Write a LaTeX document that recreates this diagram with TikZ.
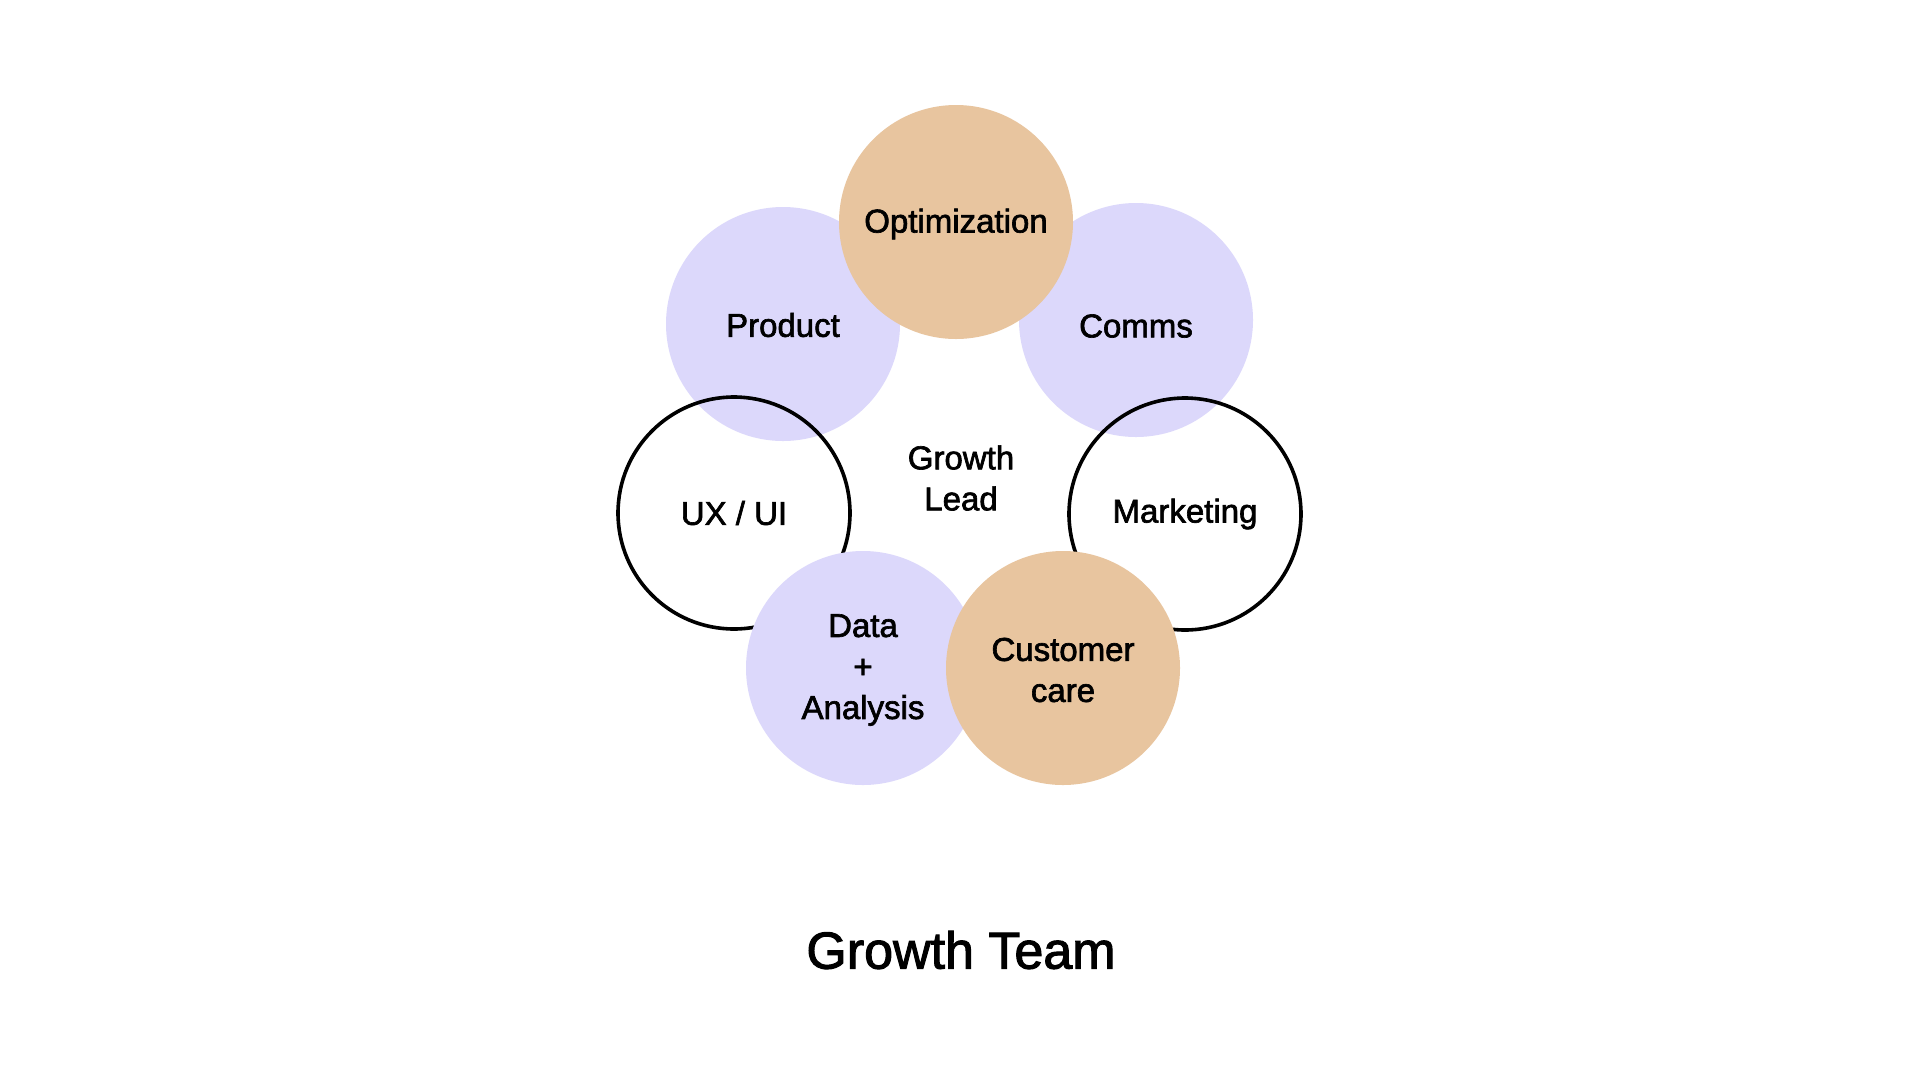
\documentclass[tikz,border=0pt]{standalone}
\usepackage{fontspec}
\setmainfont{Liberation Sans}
\newfontfamily\medfont[FakeBold=2]{Liberation Sans}
\definecolor{lav}{HTML}{DCD8FB}
\definecolor{tan}{HTML}{E8C59F}
\tikzset{
  lbl/.style={font=\medfont\fontsize{33}{41}\selectfont, align=center, text=black},
  filled/.style={circle, minimum size=234pt, inner sep=0pt},
  ring/.style={circle, minimum size=232pt, inner sep=0pt, draw=black, line width=3.6pt},
}
\begin{document}
\begin{tikzpicture}[x=1pt,y=-1pt]
\useasboundingbox (0,0) rectangle (1920,1080);
\fill[white] (0,0) rectangle (1920,1080);
\node[filled, fill=lav] (product) at (783,324) {};
\node[filled, fill=lav] (comms) at (1136,320) {};
\node[filled, fill=tan] (opt) at (956,222) {};
\node[ring] (ux) at (734,513) {};
\node[ring] (mkt) at (1185,514) {};
\node[filled, fill=lav] (data) at (863,668) {};
\node[filled, fill=tan] (cust) at (1063,668) {};
\node[lbl] at ([yshift=-1pt]product.center) {Product};
\node[lbl] at ([yshift=-6pt]comms.center) {Comms};
\node[lbl] at ([yshift=-2pt]opt.center) {Optimization};
\node[lbl] at (ux.center) {UX / UI};
\node[lbl] at (mkt.center) {Marketing};
\node[lbl] at ([yshift=-2pt]data.center) {Data\\+\\Analysis};
\node[lbl] at ([yshift=-2pt]cust.center) {Customer\\care};
\node[lbl] (lead) at (961,478) {Growth\\Lead};
\node[font=\medfont\fontsize{52}{60}\selectfont] (title) at (961,950) {Growth Team};
\end{tikzpicture}
\end{document}
